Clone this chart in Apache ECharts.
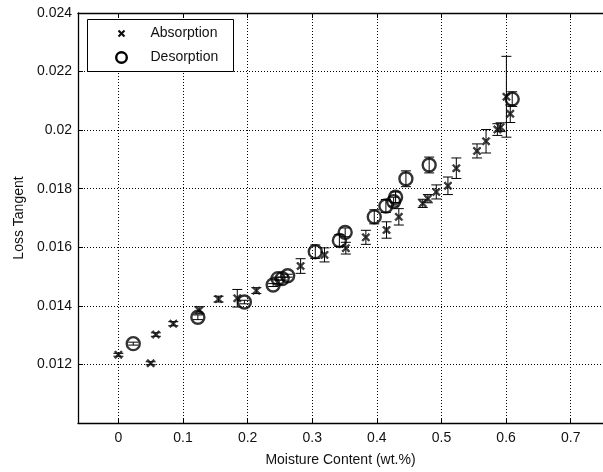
<!DOCTYPE html>
<html>
<head>
<meta charset="utf-8">
<script src="https://cdn.jsdelivr.net/npm/echarts@6/dist/echarts.min.js"></script>
<style>
html, body { margin: 0; padding: 0; background: #fff; }
#chart { width: 603px; height: 472px; }
</style>
</head>
<body>
<div id="chart"></div>
<script>
// absorption measurements
var absMoisture = [0, 0.050, 0.058, 0.085, 0.125, 0.155, 0.184, 0.2135, 0.282, 0.319, 0.352, 0.383, 0.415, 0.434,
    0.471, 0.479, 0.492, 0.510, 0.523, 0.555, 0.569, 0.5865, 0.5915, 0.6005, 0.6065]
var absLoss = [0.01233, 0.01204, 0.01302, 0.01339, 0.01385, 0.01423, 0.01426, 0.01452, 0.01536, 0.01574, 0.01597, 0.01634,
    0.01659, 0.01704, 0.0175, 0.01766, 0.01789, 0.0181, 0.0187, 0.01929, 0.01962, 0.02002, 0.0201, 0.02114, 0.02056]
var absErr = [0.00005, 0.00005, 0.00006, 0.00007, 0.00012, 0.0001, 0.0003, 0.0001, 0.00025, 0.00024, 0.0002, 0.00024,
    0.00028, 0.00028, 0.00014, 0.00014, 0.00024, 0.0003, 0.00035, 0.00024, 0.0004, 0.0002, 0.00015, 0.00138, 0.0003]

// desorption measurements
var desMoisture = [0.023, 0.123, 0.195, 0.2395, 0.247, 0.2535, 0.262, 0.3047, 0.342, 0.351, 0.396, 0.414, 0.426, 0.429,
    0.445, 0.481, 0.6095]
var desLoss = [0.01271, 0.01361, 0.01413, 0.01471, 0.01493, 0.01493, 0.01503, 0.01585, 0.01623, 0.01651, 0.01704, 0.01741,
    0.01756, 0.01771, 0.01834, 0.01881, 0.02106]
var desErr = [0.00005, 0.00008, 0.00006, 0.00005, 0.00005, 0.00005, 0.00005, 0.00023, 0.0002, 0.00015, 0.00024, 0.00022,
    0.00015, 0.00018, 0.00027, 0.00027, 0.00025]

var seriesNames = ['Absorption', 'Desorption']

var font = 'Liberation Sans, Arial, sans-serif'
var crossSymbol = 'path://M0,1.5 L1.5,0 L5,3.5 L8.5,0 L10,1.5 L6.5,5 L10,8.5 L8.5,10 L5,6.5 L1.5,10 L0,8.5 L3.5,5 Z'

function zip (xs, ys, es) {
    return xs.map(function (x, i) { return es ? [x, ys[i], es[i]] : [x, ys[i]] })
}

function renderErrorBar (params, api) {
    var x = api.value(0)
    var y = api.value(1)
    var e = api.value(2)
    var top = api.coord([x, y + e])
    var bot = api.coord([x, y - e])
    var hw = 5
    var style = { stroke: '#000', lineWidth: 1 }
    return {
        type: 'group',
        children: [
            { type: 'line', shape: { x1: top[0], y1: top[1], x2: bot[0], y2: bot[1] }, style: style },
            { type: 'line', shape: { x1: top[0] - hw, y1: top[1], x2: top[0] + hw, y2: top[1] }, style: style },
            { type: 'line', shape: { x1: bot[0] - hw, y1: bot[1], x2: bot[0] + hw, y2: bot[1] }, style: style }
        ]
    }
}

var axisLineStyle = { color: '#000', width: 1.3 }
var gridLineStyle = { color: '#000', width: 1, type: [1, 2] }
var labelStyle = { fontFamily: font, fontSize: 14, color: '#111' }

var chart = echarts.init(document.getElementById('chart'))
var option = {
    animation: false,
    backgroundColor: '#fff',
    textStyle: { fontFamily: font },
    grid: { left: 78, top: 13, width: 541, height: 412 },
    // legend box drawn by hand so each marker keeps its own size
    graphic: [{
        type: 'group',
        left: 87,
        top: 19,
        z: 100,
        children: [
            { type: 'rect', z: 100, shape: { x: 0, y: 0, width: 146, height: 52 }, style: { fill: '#fff', stroke: '#000', lineWidth: 1 } },
            { type: 'line', z: 101, shape: { x1: 31, y1: 11, x2: 37, y2: 17 }, style: { stroke: '#111', lineWidth: 2.2 } },
            { type: 'line', z: 101, shape: { x1: 31, y1: 17, x2: 37, y2: 11 }, style: { stroke: '#111', lineWidth: 2.2 } },
            { type: 'text', z: 101, x: 63, y: 14, style: { text: seriesNames[0], font: '14px ' + font, fill: '#111', verticalAlign: 'middle' } },
            { type: 'circle', z: 101, shape: { cx: 34, cy: 38, r: 5.3 }, style: { fill: 'none', stroke: '#000', lineWidth: 2.4 } },
            { type: 'text', z: 101, x: 63, y: 38, style: { text: seriesNames[1], font: '14px ' + font, fill: '#111', verticalAlign: 'middle' } }
        ]
    }],
    xAxis: [{
        type: 'value',
        min: -0.0625,
        max: 0.75,
        splitNumber: 8,
        name: 'Moisture Content (wt.%)',
        nameLocation: 'middle',
        nameGap: 30,
        nameTextStyle: labelStyle,
        axisLine: { show: true, onZero: false, lineStyle: axisLineStyle },
        axisTick: { show: true, inside: true, length: 5, lineStyle: { color: '#000' } },
        axisLabel: Object.assign({ margin: 8, showMinLabel: false, showMaxLabel: false }, labelStyle),
        splitLine: { show: true, lineStyle: gridLineStyle }
    }, {
        type: 'value',
        position: 'top',
        min: -0.0625,
        max: 0.75,
        splitNumber: 8,
        axisLine: { show: true, onZero: false, lineStyle: axisLineStyle },
        axisTick: { show: true, inside: true, length: 5, lineStyle: { color: '#000' } },
        axisLabel: { show: false },
        splitLine: { show: false }
    }],
    yAxis: {
        type: 'value',
        min: 0.010,
        max: 0.024,
        interval: 0.002,
        name: 'Loss Tangent',
        nameLocation: 'middle',
        nameGap: 52,
        nameTextStyle: labelStyle,
        axisLine: { show: true, onZero: false, lineStyle: axisLineStyle },
        axisTick: { show: true, inside: true, length: 5, lineStyle: { color: '#000' } },
        axisLabel: Object.assign({ margin: 6, showMinLabel: false }, labelStyle),
        splitLine: { show: true, lineStyle: gridLineStyle }
    },
    series: [{
        name: 'absErr',
        type: 'custom',
        renderItem: renderErrorBar,
        data: zip(absMoisture, absLoss, absErr),
        z: 2
    }, {
        name: 'desErr',
        type: 'custom',
        renderItem: renderErrorBar,
        data: zip(desMoisture, desLoss, desErr),
        z: 2
    }, {
        name: seriesNames[0],
        type: 'scatter',
        symbol: crossSymbol,
        symbolSize: 8,
        itemStyle: { color: '#111', borderColor: '#111', borderWidth: 0.8 },
        data: zip(absMoisture, absLoss),
        z: 3
    }, {
        name: seriesNames[1],
        type: 'scatter',
        symbol: 'circle',
        symbolSize: 13,
        itemStyle: { color: 'rgba(0,0,0,0)', borderColor: '#000', borderWidth: 2.4 },
        data: zip(desMoisture, desLoss),
        z: 3
    }]
}
chart.setOption(option)
</script>
</body>
</html>
